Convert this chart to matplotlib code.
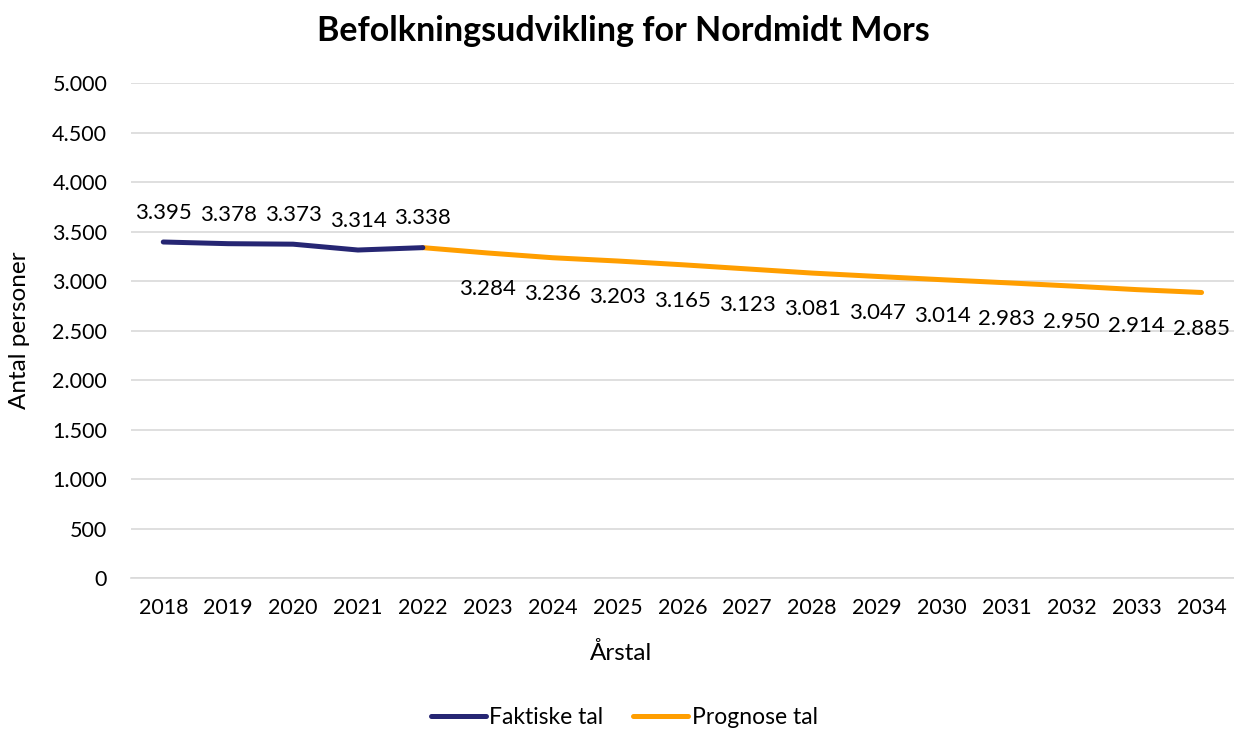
import matplotlib
matplotlib.use("Agg")
import matplotlib.pyplot as plt

plt.rcParams['font.family'] = ['Lato', 'DejaVu Sans']

years = [str(y) for y in range(2018, 2035)]
faktiske_years = ["2018", "2019", "2020", "2021", "2022"]
faktiske = [3395, 3378, 3373, 3314, 3338]
prognose_years = ["2022", "2023", "2024", "2025", "2026", "2027", "2028", "2029",
                  "2030", "2031", "2032", "2033", "2034"]
prognose = [3338, 3284, 3236, 3203, 3165, 3123, 3081, 3047, 3014, 2983, 2950, 2914, 2885]
yticks = [0, 500, 1000, 1500, 2000, 2500, 3000, 3500, 4000, 4500, 5000]

def fmt(v):
    return f"{v:,}".replace(",", ".")

fig = plt.figure(figsize=(12.34, 7.29), dpi=100)
ax = fig.add_axes([0.106, 0.207, 0.894, 0.679])

xi = {y: i for i, y in enumerate(years)}
fx = [xi[y] for y in faktiske_years]
px = [xi[y] for y in prognose_years]

ax.plot(fx, faktiske, color="#262673", lw=3.6, solid_capstyle="round", label="Faktiske tal", zorder=3)
ax.plot(px, prognose, color="#FF9E00", lw=3.6, solid_capstyle="round", label="Prognose tal", zorder=2)

for x, v in zip(fx, faktiske):
    ax.annotate(fmt(v), (x, v), xytext=(0, 21), textcoords="offset points",
                ha="center", va="center", fontsize=16)
for x, v in list(zip(px, prognose))[1:]:
    ax.annotate(fmt(v), (x, v), xytext=(0, -26), textcoords="offset points",
                ha="center", va="center", fontsize=16)

ax.set_xlim(-0.5, len(years) - 0.5)
ax.set_ylim(0, 5000)
ax.set_yticks(yticks)
ax.set_yticklabels([fmt(v) for v in yticks], fontsize=15.5)
ax.set_xticks(range(len(years)))
ax.set_xticklabels(years, fontsize=15.5)
ax.tick_params(axis='x', length=0, pad=14)
ax.tick_params(axis='y', length=0, pad=17)
ax.grid(axis="y", color="#D9D9D9", lw=1.2)
ax.set_axisbelow(True)
for s in ["top", "right", "left"]:
    ax.spines[s].set_visible(False)
ax.spines["bottom"].set_color("#D9D9D9")
ax.spines["bottom"].set_linewidth(1.2)

fig.text(0.503, 1 - 653 / 729, "Årstal", fontsize=17.5, ha="center", va="center")
fig.text(20 / 1234, 1 - 330 / 729, "Antal personer", fontsize=17.5, ha="center", va="center",
         rotation=90)
fig.text(0.505, 0.958, "Befolkningsudvikling for Nordmidt Mors", ha="center", va="center",
         fontsize=24.5, fontweight="bold")

fig.legend(loc="center", bbox_to_anchor=(0.506, 1 - 718 / 729), ncol=2, frameon=False,
           fontsize=16.5, handlelength=2.4, handletextpad=0.15, columnspacing=1.3)

fig.savefig("out.png", dpi=100)
